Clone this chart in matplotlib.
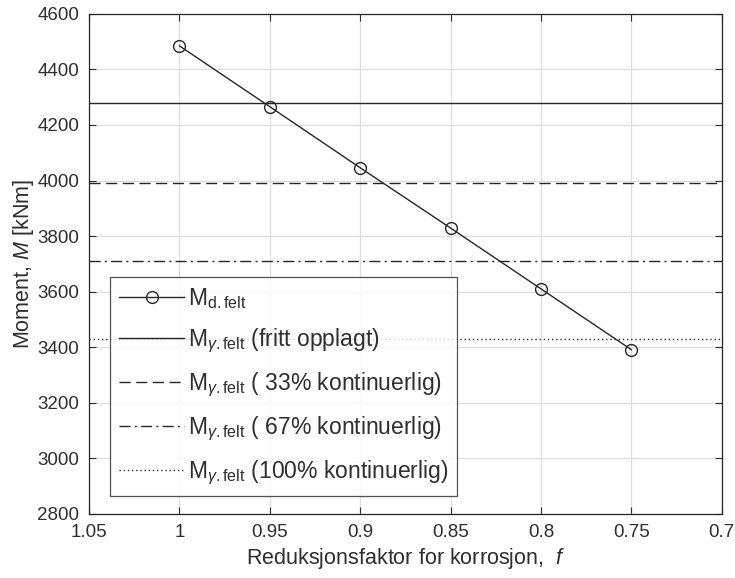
import matplotlib
matplotlib.use("Agg")
import matplotlib.pyplot as plt

plt.rcParams['font.family'] = ['Liberation Sans', 'DejaVu Sans']
plt.rcParams['mathtext.fontset'] = 'custom'
plt.rcParams['mathtext.rm'] = 'Liberation Sans'
plt.rcParams['mathtext.it'] = 'Liberation Sans:italic'

# data
f_vals = [1.0, 0.95, 0.9, 0.85, 0.8, 0.75]
M_d_felt = [4485, 4266, 4046, 3829, 3610, 3391]

M_gamma = [4279, 3992, 3712, 3430]
gamma_labels = [r'M$_{\gamma\mathrm{.felt}}$ (fritt opplagt)',
                r'M$_{\gamma\mathrm{.felt}}$ ( 33% kontinuerlig)',
                r'M$_{\gamma\mathrm{.felt}}$ ( 67% kontinuerlig)',
                r'M$_{\gamma\mathrm{.felt}}$ (100% kontinuerlig)']
gamma_styles = ['-', (0, (8, 4)), (0, (8, 3, 1.5, 3)), (0, (1, 2))]

xticks = [1.05, 1.0, 0.95, 0.9, 0.85, 0.8, 0.75, 0.7]
xticklabels = ['1.05', '1', '0.95', '0.9', '0.85', '0.8', '0.75', '0.7']
yticks = list(range(2800, 4601, 200))

txt = '#2e2e2e'
ink = '#262626'

fig = plt.figure(figsize=(7.35, 5.78), dpi=100)
ax = fig.add_axes([0.121, 0.111, 0.861, 0.865])

ax.plot(f_vals, M_d_felt, '-', color=ink, lw=1.0, marker='o', ms=8.5,
        mfc='none', mec=ink, mew=1.0, label=r'M$_{\mathrm{d.felt}}$')
for val, lab, ls in zip(M_gamma, gamma_labels, gamma_styles):
    ax.axhline(val, color=ink, lw=1.0, ls=ls, label=lab)

ax.set_xlim(1.05, 0.7)
ax.set_ylim(2800, 4600)
ax.set_xticks(xticks)
ax.set_xticklabels(xticklabels)
ax.set_yticks(yticks)
ax.grid(True, color='#dedede', lw=0.9)
ax.set_axisbelow(True)
ax.tick_params(direction='in', length=5, labelsize=13.5, colors=txt,
               top=True, right=True, pad=7)
for s in ax.spines.values():
    s.set_color('#262626')
    s.set_linewidth(0.9)

ax.set_xlabel(r'Reduksjonsfaktor for korrosjon,  $f$', fontsize=15.5,
              color=txt, labelpad=4)
ax.set_ylabel(r'Moment, $M$ [kNm]', fontsize=15.5, color=txt, labelpad=1)

leg = ax.legend(loc='lower left', bbox_to_anchor=(0.033, 0.036), fontsize=16.5,
                frameon=True, fancybox=False, edgecolor='#262626',
                handlelength=2.85, handletextpad=0.15, labelspacing=0.68,
                borderpad=0.4, borderaxespad=0)
leg.get_frame().set_linewidth(0.9)
for t in leg.get_texts():
    t.set_color(txt)

fig.savefig('out.png', dpi=100)
